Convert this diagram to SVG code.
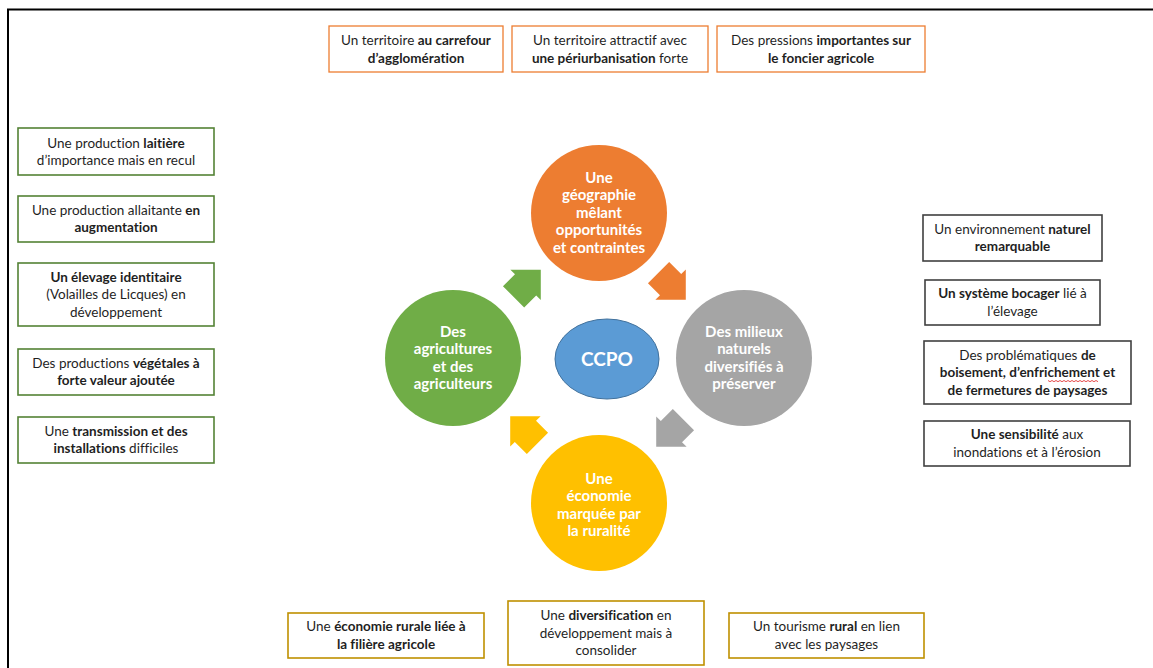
<svg xmlns="http://www.w3.org/2000/svg" width="1153" height="668" viewBox="0 0 1153 668">
<style>
  .t { font-family: Lato, "Liberation Sans", sans-serif; font-size: 13.5px; fill: #1f1f1f; text-anchor: middle; font-variant-ligatures: none; }
  .b { font-weight: 700; }
  .c { font-family: Lato, "Liberation Sans", sans-serif; font-size: 15px; font-weight: 700; fill: #ffffff; text-anchor: middle; font-variant-ligatures: none; }
  .bo { fill: #ffffff; stroke: #ED7D31; stroke-width: 1.3; }
  .bg { fill: #ffffff; stroke: #548235; stroke-width: 1.6; }
  .bk { fill: #ffffff; stroke: #404040; stroke-width: 1.6; }
  .by { fill: #ffffff; stroke: #BF9000; stroke-width: 1.6; }
</style>
<defs>
  <path id="arr" d="M-19,-15 L-2,-15 L-2,-21.5 L19.5,0 L-2,21.5 L-2,15 L-19,15 Z"/>
</defs>
<rect width="1153" height="668" fill="#ffffff"/>
<path d="M8,668 V9.5 H1153" fill="none" stroke="#000" stroke-width="2"/>

<g id="top-1"><rect class="bo" x="329" y="26" width="174" height="46"/>
  <text class="t" x="416" y="45">Un territoire <tspan class="b">au carrefour</tspan></text>
  <text class="t b" x="416" y="62.5">d’agglomération</text></g>
<g id="top-2"><rect class="bo" x="512" y="26" width="196" height="46"/>
  <text class="t" x="610" y="45">Un territoire attractif avec</text>
  <text class="t" x="610" y="62.5"><tspan class="b">une périurbanisation</tspan> forte</text></g>
<g id="top-3"><rect class="bo" x="717" y="26" width="208" height="46"/>
  <text class="t" x="821" y="45">Des pressions <tspan class="b">importantes sur</tspan></text>
  <text class="t b" x="821" y="62.5">le foncier agricole</text></g>

<g id="left-1"><rect class="bg" x="18" y="128" width="196" height="47"/>
  <text class="t" x="116" y="147.5">Une production <tspan class="b">laitière</tspan></text>
  <text class="t" x="116" y="165">d’importance mais en recul</text></g>
<g id="left-2"><rect class="bg" x="18" y="196" width="196" height="46"/>
  <text class="t" x="116" y="214.5">Une production allaitante <tspan class="b">en</tspan></text>
  <text class="t b" x="116" y="232">augmentation</text></g>
<g id="left-3"><rect class="bg" x="18" y="263" width="196" height="63"/>
  <text class="t b" x="116" y="281.5">Un élevage identitaire</text>
  <text class="t" x="116" y="299">(Volailles de Licques) en</text>
  <text class="t" x="116" y="316.5">développement</text></g>
<g id="left-4"><rect class="bg" x="18" y="349" width="196" height="46"/>
  <text class="t" x="116" y="367.5">Des productions <tspan class="b">végétales à</tspan></text>
  <text class="t b" x="116" y="385">forte valeur ajoutée</text></g>
<g id="left-5"><rect class="bg" x="18" y="417" width="196" height="46"/>
  <text class="t" x="116" y="435.5">Une <tspan class="b">transmission et des</tspan></text>
  <text class="t" x="116" y="453"><tspan class="b">installations</tspan> difficiles</text></g>

<g id="right-1"><rect class="bk" x="923" y="215" width="179" height="46"/>
  <text class="t" x="1012.5" y="233.5">Un environnement <tspan class="b">naturel</tspan></text>
  <text class="t b" x="1012.5" y="251">remarquable</text></g>
<g id="right-2"><rect class="bk" x="925" y="280" width="175" height="45"/>
  <text class="t" x="1012.5" y="298"><tspan class="b">Un système bocager</tspan> lié à</text>
  <text class="t" x="1012.5" y="315.5">l’élevage</text></g>
<g id="right-3"><rect class="bk" x="924" y="341" width="207" height="63"/>
  <text class="t" x="1027.5" y="359.5">Des problématiques <tspan class="b">de</tspan></text>
  <text class="t b" x="1027.5" y="377">boisement, d’enfrichement et</text>
  <text class="t b" x="1027.5" y="394.5">de fermetures de paysages</text>
  <path d="M1048,380.5 l2,1.2 l2,-1.2 l2,1.2 l2,-1.2 l2,1.2 l2,-1.2 l2,1.2 l2,-1.2 l2,1.2 l2,-1.2 l2,1.2 l2,-1.2 l2,1.2 l2,-1.2 l2,1.2 l2,-1.2 l2,1.2 l2,-1.2 l2,1.2 l2,-1.2 l2,1.2 l2,-1.2 l2,1.2 l2,-1.2 l2,1.2" fill="none" stroke="#e02020" stroke-width="0.8"/></g>
<g id="right-4"><rect class="bk" x="924" y="421" width="206" height="45"/>
  <text class="t" x="1027" y="439"><tspan class="b">Une sensibilité</tspan> aux</text>
  <text class="t" x="1027" y="456.5">inondations et à l’érosion</text></g>

<g id="bottom-1"><rect class="by" x="288" y="613" width="196" height="45"/>
  <text class="t" x="386" y="631">Une <tspan class="b">économie rurale liée à</tspan></text>
  <text class="t b" x="386" y="648.5">la filière agricole</text></g>
<g id="bottom-2"><rect class="by" x="508" y="601" width="196" height="64"/>
  <text class="t" x="606" y="620">Une <tspan class="b">diversification</tspan> en</text>
  <text class="t" x="606" y="637.5">développement mais à</text>
  <text class="t" x="606" y="655">consolider</text></g>
<g id="bottom-3"><rect class="by" x="729" y="613" width="195" height="45"/>
  <text class="t" x="826.5" y="631">Un tourisme <tspan class="b">rural</tspan> en lien</text>
  <text class="t" x="826.5" y="648.5">avec les paysages</text></g>

<g id="connectors">
  <use href="#arr" fill="#ED7D31" transform="translate(672,286) rotate(45)"/>
  <use href="#arr" fill="#A5A5A5" transform="translate(670,433) rotate(135)"/>
  <use href="#arr" fill="#FFC000" transform="translate(524,430) rotate(225)"/>
  <use href="#arr" fill="#70AD47" transform="translate(527,283.5) rotate(-45)"/>
</g>

<g id="geographie"><circle cx="599" cy="213" r="68" fill="#ED7D31"/>
  <text class="c" x="599" y="182.5">Une</text>
  <text class="c" x="599" y="200">géographie</text>
  <text class="c" x="599" y="217.5">mêlant</text>
  <text class="c" x="599" y="235">opportunités</text>
  <text class="c" x="599" y="252.5">et contraintes</text></g>
<g id="milieux"><circle cx="744" cy="358" r="68" fill="#A5A5A5"/>
  <text class="c" x="744" y="336.5">Des milieux</text>
  <text class="c" x="744" y="354">naturels</text>
  <text class="c" x="744" y="371.5">diversifiés à</text>
  <text class="c" x="744" y="389">préserver</text></g>
<g id="economie"><circle cx="599" cy="503" r="68" fill="#FFC000"/>
  <text class="c" x="599" y="483.5">Une</text>
  <text class="c" x="599" y="501">économie</text>
  <text class="c" x="599" y="518.5">marquée par</text>
  <text class="c" x="599" y="536">la ruralité</text></g>
<g id="agricultures"><circle cx="453" cy="358" r="68" fill="#70AD47"/>
  <text class="c" x="453" y="336.5">Des</text>
  <text class="c" x="453" y="354">agricultures</text>
  <text class="c" x="453" y="371.5">et des</text>
  <text class="c" x="453" y="389">agriculteurs</text></g>
<g id="ccpo"><ellipse cx="607" cy="359" rx="52" ry="40" fill="#5B9BD5" stroke="#41719C" stroke-width="1"/>
  <text class="c" x="607" y="365.5" style="font-size:19px">CCPO</text></g>
</svg>
